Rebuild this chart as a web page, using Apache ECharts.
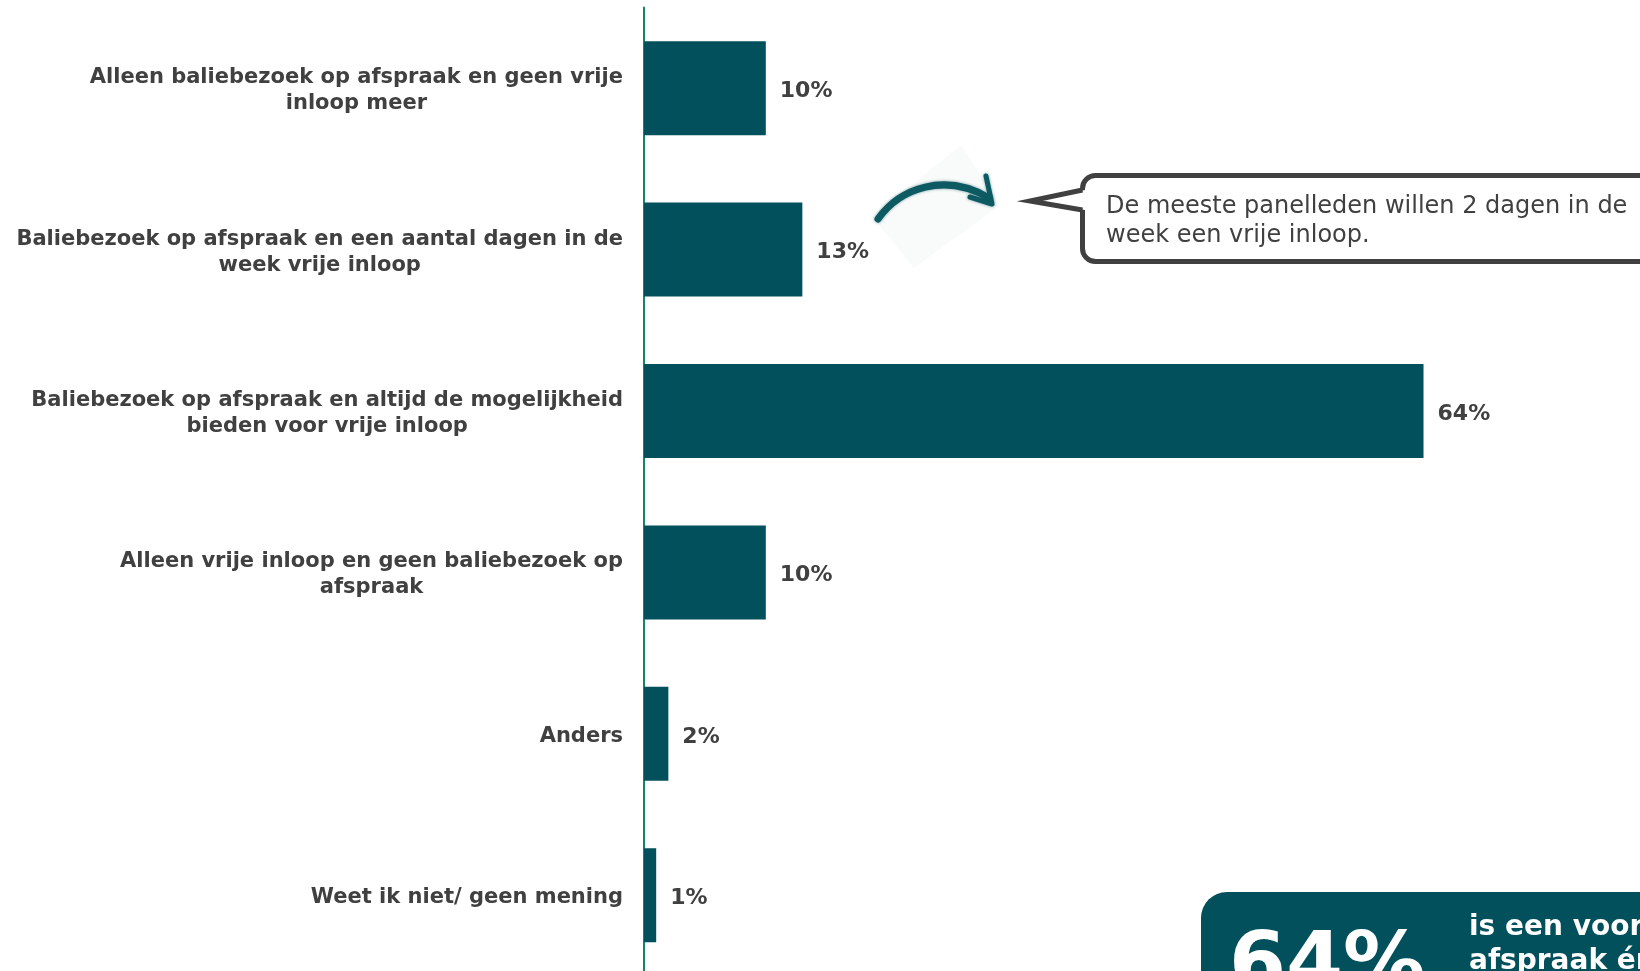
<!DOCTYPE html>
<html>
<head>
<meta charset="utf-8">
<style>
  html, body { margin: 0; padding: 0; background: #ffffff; }
  #chart { width: 1640px; height: 971px; }
</style>
<script src="https://cdn.jsdelivr.net/npm/echarts@6/dist/echarts.min.js"></script>
</head>
<body>
<div id="chart"></div>
<script>
// Answer options, top to bottom
const categories = [
  'Alleen baliebezoek op afspraak en geen vrije\ninloop meer',
  'Baliebezoek op afspraak en een aantal dagen in de\nweek vrije inloop',
  'Baliebezoek op afspraak en altijd de mogelijkheid\nbieden voor vrije inloop',
  'Alleen vrije inloop en geen baliebezoek op\nafspraak',
  'Anders',
  'Weet ik niet/ geen mening'
];
// Share of respondents (%)
const values = [10, 13, 64, 10, 2, 1];

const calloutText = 'De meeste panelleden willen 2 dagen in de\nweek een vrije inloop.';
const highlightText = 'is een voorstander van baliebezoek op\nafspraak én vrije inloop';

const TEAL = '#02505b';
const AXIS_GREEN = '#17836f';
const TEXT = '#404040';
const FONT = '"DejaVu Sans", Verdana, sans-serif';

const chart = echarts.init(document.getElementById('chart'), null, { renderer: 'canvas' });

chart.setOption({
  backgroundColor: '#ffffff',
  animation: false,
  grid: {
    left: 644, top: 7.5, width: 974.4, height: 968.4,
    containLabel: false, outerBoundsMode: 'none'
  },
  xAxis: {
    type: 'value', min: 0, max: 80,
    show: false
  },
  yAxis: {
    type: 'category',
    data: categories,
    inverse: true,
    axisLine: { show: true, lineStyle: { color: AXIS_GREEN, width: 2 } },
    axisTick: { show: false },
    splitLine: { show: false },
    axisLabel: {
      margin: 21,
      align: 'right',
      padding: [5, 0, 0, 0],
      formatter: function (v) {
        return v.split('\n').map(function (l) { return '{c|' + l + '}'; }).join('\n');
      },
      rich: {
        c: {
          align: 'center',
          fontFamily: FONT, fontWeight: 'bold', fontSize: 21,
          color: TEXT, lineHeight: 26
        }
      }
    }
  },
  series: [{
    type: 'bar',
    data: values,
    barWidth: 94,
    itemStyle: { color: TEAL },
    label: {
      show: true,
      position: 'right',
      distance: 14,
      offset: [0, 3],
      formatter: '{c}%',
      fontFamily: FONT, fontWeight: 'bold', fontSize: 22,
      color: TEXT
    }
  }],
  graphic: [
    // faint backdrop behind the hand-drawn arrow
    {
      type: 'polygon', silent: true,
      shape: { points: [[961, 145], [1000, 205], [914, 268], [872, 217]] },
      style: { fill: '#f4f6f6', opacity: 0.5 }
    },
    // curved arrow pointing at the callout
    {
      type: 'bezierCurve', silent: true,
      shape: { x1: 878, y1: 219, cpx1: 900, cpy1: 188, cpx2: 945, cpy2: 172, x2: 989, y2: 198 },
      style: { fill: null, stroke: '#0d5a63', lineWidth: 7, lineCap: 'round',
               shadowBlur: 3, shadowColor: 'rgba(13,90,99,0.6)' }
    },
    {
      type: 'polyline', silent: true,
      shape: { points: [[986, 176], [992, 204], [970, 197]] },
      style: { fill: null, stroke: '#0d5a63', lineWidth: 5, lineCap: 'round', lineJoin: 'round',
               shadowBlur: 3, shadowColor: 'rgba(13,90,99,0.6)' }
    },
    // speech bubble: rounded box, pointer on its left side
    {
      type: 'rect', silent: true,
      shape: { x: 1082.5, y: 175.5, width: 620, height: 86, r: 13 },
      style: { fill: '#ffffff', stroke: '#404040', lineWidth: 5 }
    },
    {
      type: 'polygon', silent: true,
      shape: { points: [[1085, 190], [1030, 201], [1085, 210]] },
      style: { fill: '#ffffff' }
    },
    {
      type: 'polyline', silent: true,
      shape: { points: [[1082.5, 190], [1030, 201], [1082.5, 210]] },
      style: { fill: null, stroke: '#404040', lineWidth: 5, lineJoin: 'miter', miterLimit: 10 }
    },
    {
      type: 'text', silent: true,
      x: 1106, y: 192.5,
      style: {
        text: calloutText,
        fontFamily: FONT, fontSize: 24, lineHeight: 29,
        fill: TEXT, verticalAlign: 'top', align: 'left'
      }
    },
    // highlight box with the leading answer
    {
      type: 'rect', silent: true,
      shape: { x: 1201, y: 892, width: 520, height: 200, r: 26 },
      style: { fill: TEAL }
    },
    {
      type: 'text', silent: true,
      x: 1229, y: 969,
      style: {
        text: values[2] + '%',
        fontFamily: FONT, fontWeight: 'bold', fontSize: 82,
        fill: '#ffffff', verticalAlign: 'middle', align: 'left'
      }
    },
    {
      type: 'text', silent: true,
      x: 1469, y: 911,
      style: {
        text: highlightText,
        fontFamily: FONT, fontWeight: 'bold', fontSize: 28, lineHeight: 33.5,
        fill: '#ffffff', verticalAlign: 'top', align: 'left'
      }
    }
  ]
});
</script>
</body>
</html>
